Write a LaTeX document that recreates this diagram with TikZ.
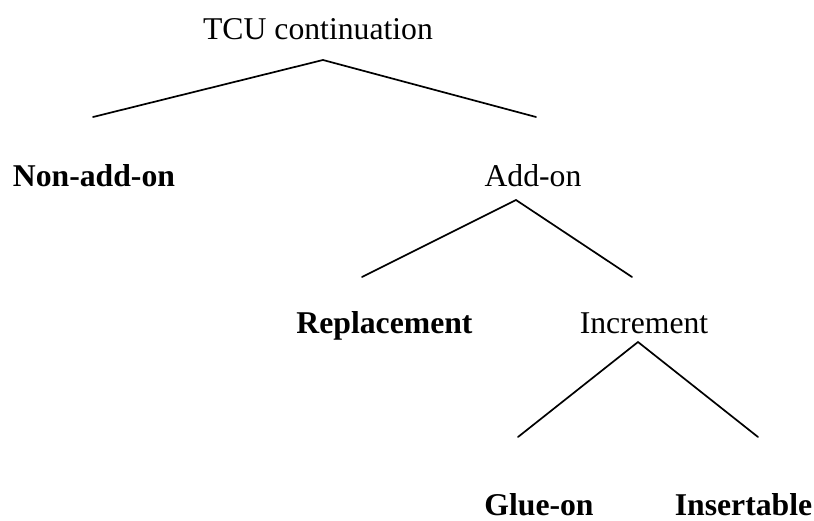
\documentclass[tikz,border=0pt]{standalone}
\usepackage{fontspec}
\setmainfont{Liberation Serif}
\begin{document}
\begin{tikzpicture}[x=1pt,y=-1pt,
  lbl/.style={anchor=base,inner sep=0pt,font=\fontsize{31.7}{38}\selectfont},
  blbl/.style={lbl,font=\fontsize{31.7}{38}\selectfont\bfseries},
  branch/.style={line width=1.7pt,line cap=round,line join=miter}]
\useasboundingbox[fill=white] (0,0) rectangle (814,521);
% labels
\node[lbl]  (tcu)  at (318,40)  {TCU continuation};
\node[blbl] (non)  at (94,187)  {Non-add-on};
\node[lbl]  (add)  at (533,187) {Add-on};
\node[blbl] (rep)  at (384.5,334) {Replacement};
\node[lbl]  (inc)  at (644,334) {Increment};
\node[blbl] (glue) at (539,515) {Glue-on};
\node[blbl] (ins)  at (743.5,515) {Insertable};
% branch points
\coordinate (t0) at (323,60);
\coordinate (t1) at (93,117);
\coordinate (t2) at (536,117);
\coordinate (a0) at (516,200);
\coordinate (a1) at (362,277);
\coordinate (a2) at (632,277);
\coordinate (i0) at (638,342);
\coordinate (i1) at (518,437);
\coordinate (i2) at (758,437);
\draw[branch] (t1) -- (t0) -- (t2);
\draw[branch] (a1) -- (a0) -- (a2);
\draw[branch] (i1) -- (i0) -- (i2);
\end{tikzpicture}
\end{document}
